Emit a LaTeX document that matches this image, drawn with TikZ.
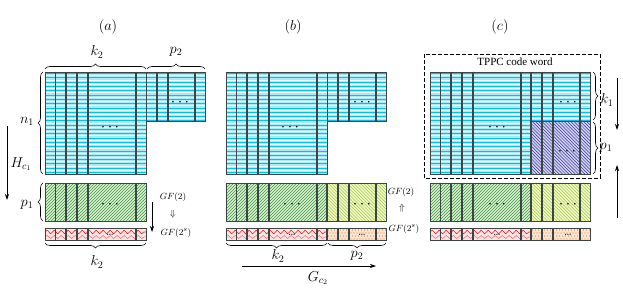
\documentclass[tikz,border=0pt]{standalone}
\usepackage{fontspec}
\setmainfont{Liberation Serif}
\usetikzlibrary{decorations.pathreplacing,decorations.pathmorphing,arrows.meta}
\definecolor{cyanbg}{HTML}{A8EAF8}
\definecolor{cyanln}{HTML}{00C2F2}
\definecolor{vgray}{HTML}{3A4646}
\definecolor{greenbg}{HTML}{DCF0D4}
\definecolor{greenln}{HTML}{3E9A3E}
\definecolor{redbg}{HTML}{FCE4E4}
\definecolor{redln}{HTML}{F02020}
\definecolor{yellowbg}{HTML}{F0F8CC}
\definecolor{yellowln}{HTML}{A4C83A}
\definecolor{orangebg}{HTML}{FCE6D4}
\definecolor{orangedot}{HTML}{F07830}
\definecolor{purplebg}{HTML}{D2D2F0}
\definecolor{purpleln}{HTML}{3A3AA0}
\newcommand\cyanblk[4]{%
  \fill[cyanbg] (#1,#2) rectangle (#3,#4);
  \begin{scope}
    \clip (#1,#2) rectangle (#3,#4);
    \foreach \k in {0,...,25}{%
      \draw[cyanln,line width=0.7pt] (#1,#2+1.5+\k*4.3) -- (#3,#2+1.5+\k*4.3);
      \draw[white,line width=0.7pt] (#1,#2+3.6+\k*4.3) -- (#3,#2+3.6+\k*4.3);
    }
  \end{scope}}
\newcommand\hatchNE[6]{%
  \fill[#5] (#1,#2) rectangle (#3,#4);
  \begin{scope}
    \clip (#1,#2) rectangle (#3,#4);
    \foreach \k in {0,...,60}{\draw[#6,line width=0.5pt] (#1+\k*3-60,#4) -- (#1+\k*3-60+#4-#2,#2);}
  \end{scope}}
\newcommand\hatchNW[6]{%
  \fill[#5] (#1,#2) rectangle (#3,#4);
  \begin{scope}
    \clip (#1,#2) rectangle (#3,#4);
    \foreach \k in {0,...,60}{\draw[#6,line width=0.5pt] (#1+\k*3.2-60,#2) -- (#1+\k*3.2-60+#4-#2,#4);}
  \end{scope}}
\newcommand\waveblk[4]{%
  \fill[redbg] (#1,#2) rectangle (#3,#4);
  \begin{scope}
    \clip (#1,#2) rectangle (#3,#4);
    \draw[redln,line width=0.6pt,decorate,decoration={snake,segment length=7pt,amplitude=1.8pt}] (#1,#2+4) -- (#3,#2+4);
    \draw[redln!70,line width=0.5pt,decorate,decoration={snake,segment length=7pt,amplitude=1.5pt}] (#1,#2+9) -- (#3,#2+9);
  \end{scope}}
\newcommand\dotblk[4]{%
  \fill[orangebg] (#1,#2) rectangle (#3,#4);
  \begin{scope}
    \clip (#1,#2) rectangle (#3,#4);
    \foreach \i in {0,...,20}{\foreach \j in {0,...,3}{%
      \pgfmathsetmacro\dx{#1+1.5+\i*3+mod(\j,2)*1.5}%
      \fill[orangedot] (\dx,#2+2+\j*3) circle (0.6pt);}}
  \end{scope}}
\newcommand\bigdots{\textbullet\hspace{4.5pt}\textbullet\hspace{4.5pt}\textbullet}
\newcommand\smalldots{\textbullet\hspace{0.6pt}\textbullet\hspace{0.6pt}\textbullet}
\begin{document}
\begin{tikzpicture}[x=1pt,y=-1pt,
  lbl/.style={font=\fontsize{14}{14}\selectfont,inner sep=0pt},
  gf/.style={font=\fontsize{9.5}{10}\selectfont,inner sep=0pt},
  brc/.style={decorate,decoration={brace,amplitude=5pt},line width=0.6pt},
  vl/.style={vgray,line width=1.1pt},
  frame/.style={draw=vgray,line width=0.9pt},
  ell/.style={font=\fontsize{7}{7}\selectfont,inner sep=0pt},
  sell/.style={font=\fontsize{5}{5}\selectfont,inner sep=0pt},
  arr/.style={-{Stealth[length=6pt,width=4pt]},line width=0.7pt}]
\useasboundingbox (0,0) rectangle (623,288);
% ---------- panel (a)
\node[lbl] (ta) at (108,27) {$(a)$};
\cyanblk{45}{72}{146}{174}
\cyanblk{146}{72}{205}{121}
\hatchNE{45}{183}{146}{221}{greenbg}{greenln}
\waveblk{45}{228}{146}{240}
\foreach \x in {55.5,66,77,88,136} \draw[vl] (\x,72) -- (\x,174) (\x,183) -- (\x,221) (\x,228) -- (\x,240);
\foreach \x in {157,168,195} \draw[vl] (\x,72) -- (\x,121);
\draw[frame] (45,72) rectangle (146,174);
\draw[frame] (146,72) rectangle (205,121);
\draw[frame] (45,183) rectangle (146,221);
\draw[frame] (45,228) rectangle (146,240);
\node[ell] (ea1) at (110,128) {\bigdots};
\node[ell] (ea2) at (180,103) {\bigdots};
\node[ell] (ea3) at (110,205) {\bigdots};
\node[sell] (ea4) at (110,235) {\smalldots};
\draw[brc] (45,69) -- (146,69);
\draw[brc] (147,69) -- (205,69);
\node[lbl] (ka) at (97,52) {$k_2$};
\node[lbl] (pa) at (176,52) {$p_2$};
\draw[brc] (43,174) -- (43,72);
\node[lbl] (na) at (27,121) {$n_1$};
\draw[brc] (43,221) -- (43,183);
\node[lbl] (p1a) at (27,205) {$p_1$};
\coordinate (ha1) at (7,126);
\coordinate (ha2) at (7,200);
\draw[arr] (ha1) -- (ha2);
\node[lbl] (hc) at (21,164) {$H_{c_1}$};
\coordinate (ga1) at (152,202);
\coordinate (ga2) at (152,232);
\draw[arr] (ga1) -- (ga2);
\node[gf] (gfa1) at (173,197) {$GF(2)$};
\node[gf] (gfa2) at (173,214) {$\Downarrow$};
\node[gf] (gfa3) at (176,233) {$GF(2^s)$};
\draw[brc] (146,243) -- (45,243);
\node[lbl] (kb1) at (97,262) {$k_2$};
% ---------- panel (b)
\node[lbl] (tb) at (293,27) {$(b)$};
\begin{scope}[xshift=181pt]
\cyanblk{45}{72}{146}{174}
\cyanblk{146}{72}{205}{121}
\hatchNE{45}{183}{146}{221}{greenbg}{greenln}
\hatchNW{146}{183}{205}{221}{yellowbg}{yellowln}
\waveblk{45}{228}{146}{240}
\dotblk{146}{228}{205}{240}
\foreach \x in {55.5,66,77,88,136} \draw[vl] (\x,72) -- (\x,174) (\x,183) -- (\x,221) (\x,228) -- (\x,240);
\foreach \x in {157,168,195} \draw[vl] (\x,72) -- (\x,121) (\x,183) -- (\x,221) (\x,228) -- (\x,240);
\draw[frame] (45,72) rectangle (146,174);
\draw[frame] (146,72) rectangle (205,121);
\draw[frame] (45,183) rectangle (205,221);
\draw[frame] (45,228) rectangle (205,240);
\draw[vl] (146,183) -- (146,221) (146,228) -- (146,240);
\node[ell] (eb1) at (109,128) {\bigdots};
\node[ell] (eb2) at (181,103) {\bigdots};
\node[ell] (eb3) at (111,205) {\bigdots};
\node[ell] (eb4) at (181,205) {\bigdots};
\node[sell] (eb5) at (111,235) {\smalldots};
\node[sell] (eb6) at (181,235) {\smalldots};
\draw[brc] (146,243) -- (45,243);
\draw[brc] (205,243) -- (147,243);
\node[lbl] (kb) at (97,256) {$k_2$};
\node[lbl] (pb) at (176,256) {$p_2$};
\coordinate (gb1) at (61,266);
\coordinate (gb2) at (195,266);
\draw[arr] (gb1) -- (gb2);
\node[lbl] (gc) at (137,278) {$G_{c_2}$};
\node[gf] (gfb1) at (220,192) {$GF(2)$};
\node[gf] (gfb2) at (221,208) {$\Uparrow$};
\node[gf] (gfb3) at (223,229) {$GF(2^s)$};
\end{scope}
% ---------- panel (c)
\node[lbl] (tc) at (500,27) {$(c)$};
\draw[dashed,line width=0.8pt,dash pattern=on 4pt off 2pt] (424,54) rectangle (600,178);
\node[font=\fontsize{11}{11}\selectfont,inner sep=0pt] (tppc) at (515,62) {TPPC code word};
\begin{scope}[xshift=385pt]
\cyanblk{45}{72}{205}{174}
\hatchNW{146}{121}{205}{174}{purplebg}{purpleln}
\hatchNE{45}{183}{146}{221}{greenbg}{greenln}
\hatchNW{146}{183}{205}{221}{yellowbg}{yellowln}
\waveblk{45}{228}{146}{240}
\dotblk{146}{228}{205}{240}
\foreach \x in {55.5,66,77,88,136,146,157,168,195} \draw[vl] (\x,72) -- (\x,174) (\x,183) -- (\x,221) (\x,228) -- (\x,240);
\draw[frame] (146,121) -- (205,121);
\draw[frame] (146,121) -- (146,174);
\draw[frame] (45,72) rectangle (205,174);
\draw[frame] (45,183) rectangle (205,221);
\draw[frame] (45,228) rectangle (205,240);
\node[ell] (ec1) at (112,128) {\bigdots};
\node[ell] (ec2) at (183,103) {\bigdots};
\node[ell] (ec3) at (182,152) {\bigdots};
\node[ell] (ec4) at (112,205) {\bigdots};
\node[ell] (ec5) at (183,205) {\bigdots};
\node[sell] (ec6) at (112,235) {\smalldots};
\node[sell] (ec7) at (183,235) {\smalldots};
\end{scope}
\draw[brc] (593,72) -- (593,120);
\draw[brc] (593,122) -- (593,174);
\node[lbl] (kc) at (607,100) {$k_1$};
\node[lbl] (pc) at (606,148) {$p_1$};
\coordinate (ac1) at (617,78);
\coordinate (ac2) at (617,130);
\draw[arr] (ac1) -- (ac2);
\coordinate (ac3) at (617,218);
\coordinate (ac4) at (617,165);
\draw[arr] (ac3) -- (ac4);
\end{tikzpicture}
\end{document}
